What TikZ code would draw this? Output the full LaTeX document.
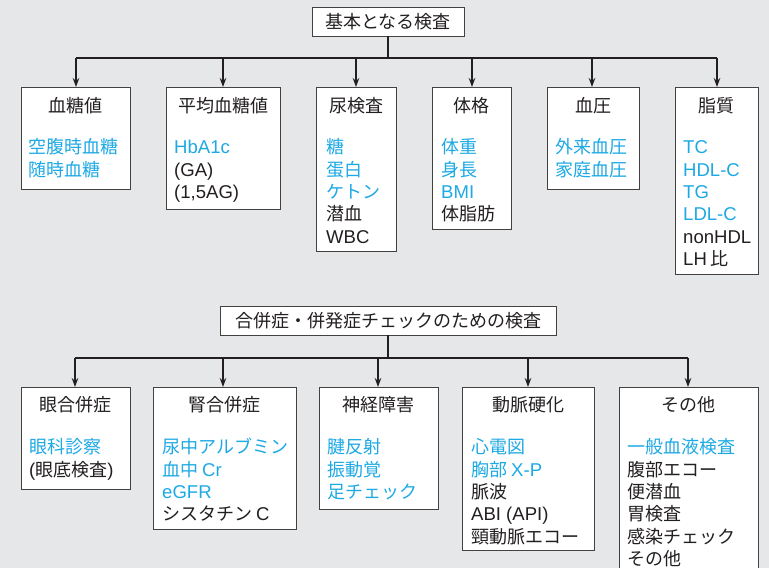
\documentclass[tikz,border=0pt]{standalone}
\usepackage{fontspec}
\setmainfont{Noto Sans CJK JP}
\newfontfamily\latfont{Liberation Sans}[Scale=1.03]
\usetikzlibrary{arrows.meta}
\definecolor{bg}{HTML}{E6E7E9}
\definecolor{blu}{HTML}{1DA9E4}
\definecolor{ink}{HTML}{231F20}
\tikzset{
  x=1pt,y=-1pt,
  box/.style={draw=ink!85,line width=0.9pt,fill=white,inner sep=0pt},
  ttl/.style={inner sep=0pt,anchor=center,text=ink,font=\fontsize{18}{22.3}\selectfont},
  items/.style={inner sep=0pt,anchor=north west,align=left,text=ink,font=\fontsize{18}{22.3}\selectfont},
  conn/.style={draw=ink,line width=1.3pt},
  arr/.style={conn,-{Stealth[length=9pt,width=6.5pt]}}
}
\newcommand{\bl}[1]{\textcolor{blu}{#1}}
\newcommand{\la}[1]{{\latfont #1}}
\begin{document}
\begin{tikzpicture}
\useasboundingbox[fill=bg] (0,0) rectangle (769,568);
\clip (0,0) rectangle (769,568);
% ---------- top group ----------
\node[box,minimum width=152pt,minimum height=29pt] (top) at (388,21.5) {};
\node[ttl] (toptxt) at (top.center) {基本となる検査};
\coordinate (tj) at (388,58);
\coordinate (tl) at (76,58);
\coordinate (tr) at (717,58);
\draw[conn] (top.south) -- (tj);
\draw[conn] (tl) -- (tr);

\node[box,minimum width=109pt,minimum height=102pt,anchor=north west] (a1) at (21,87) {};
\node[box,minimum width=114pt,minimum height=122pt,anchor=north west] (a2) at (166,87) {};
\node[box,minimum width=80pt,minimum height=164pt,anchor=north west] (a3) at (316,87) {};
\node[box,minimum width=79pt,minimum height=142pt,anchor=north west] (a4) at (432,87) {};
\node[box,minimum width=92pt,minimum height=102pt,anchor=north west] (a5) at (547,87) {};
\node[box,minimum width=83pt,minimum height=187pt,anchor=north west] (a6) at (675,87) {};

\foreach \n/\x in {a1/76,a2/223,a3/356,a4/472,a5/592,a6/717}{
  \coordinate (s\n) at (\x,58);
  \draw[arr] (s\n) -- (\n.north -| s\n);
}

\node[ttl] (a1t) at (a1.north |- 0,106) {血糖値};
\node[ttl] (a2t) at (a2.north |- 0,106) {平均血糖値};
\node[ttl] (a3t) at (a3.north |- 0,106) {尿検査};
\node[ttl] (a4t) at (a4.north |- 0,106) {体格};
\node[ttl] (a5t) at (a5.north |- 0,106) {血圧};
\node[ttl] (a6t) at (a6.north |- 0,106) {脂質};

\node[items] (a1i) at (28,138) {\strut\bl{空腹時血糖}\\\bl{随時血糖}};
\node[items] (a2i) at (174,138) {\strut\bl{\la{HbA1c}}\\\la{(GA)}\\\la{(1,5AG)}};
\node[items] (a3i) at (326,138) {\strut\bl{糖}\\\bl{蛋白}\\\bl{ケトン}\\潜血\\\la{WBC}};
\node[items] (a4i) at (441,138) {\strut\bl{体重}\\\bl{身長}\\\bl{\la{BMI}}\\体脂肪};
\node[items] (a5i) at (555,138) {\strut\bl{外来血圧}\\\bl{家庭血圧}};
\node[items] (a6i) at (683,138) {\strut\bl{\la{TC}}\\\bl{\la{HDL-C}}\\\bl{\la{TG}}\\\bl{\la{LDL-C}}\\\la{nonHDL}\\\la{LH} 比};

% ---------- bottom group ----------
\node[box,minimum width=336pt,minimum height=29pt] (bot) at (388,320.5) {};
\node[ttl] (bottxt) at (bot.center) {合併症・併発症チェックのための検査};
\coordinate (bj) at (388,358);
\coordinate (bl) at (75,358);
\coordinate (br) at (688,358);
\draw[conn] (bot.south) -- (bj);
\draw[conn] (bl) -- (br);

\node[box,minimum width=109pt,minimum height=102pt,anchor=north west] (b1) at (21,387) {};
\node[box,minimum width=143pt,minimum height=142pt,anchor=north west] (b2) at (153,387) {};
\node[box,minimum width=119pt,minimum height=122pt,anchor=north west] (b3) at (319,387) {};
\node[box,minimum width=132pt,minimum height=163pt,anchor=north west] (b4) at (462,387) {};
\node[box,minimum width=139pt,minimum height=200pt,anchor=north west] (b5) at (619,387) {};

\foreach \n/\x in {b1/75,b2/223,b3/378,b4/528,b5/688}{
  \coordinate (s\n) at (\x,358);
  \draw[arr] (s\n) -- (\n.north -| s\n);
}

\node[ttl] (b1t) at (b1.north |- 0,405) {眼合併症};
\node[ttl] (b2t) at (b2.north |- 0,405) {腎合併症};
\node[ttl] (b3t) at (b3.north |- 0,405) {神経障害};
\node[ttl] (b4t) at (b4.north |- 0,405) {動脈硬化};
\node[ttl] (b5t) at (b5.north |- 0,405) {その他};

\node[items] (b1i) at (29,438) {\strut\bl{眼科診察}\\\la{(}眼底検査\la{)}};
\node[items] (b2i) at (162,438) {\strut\bl{尿中アルブミン}\\\bl{血中 \la{Cr}}\\\bl{\la{eGFR}}\\シスタチン \la{C}};
\node[items] (b3i) at (327,438) {\strut\bl{腱反射}\\\bl{振動覚}\\\bl{足チェック}};
\node[items] (b4i) at (471,438) {\strut\bl{心電図}\\\bl{胸部 \la{X-P}}\\脈波\\\la{ABI (API)}\\頸動脈エコー};
\node[items] (b5i) at (627,438) {\strut\bl{一般血液検査}\\腹部エコー\\便潜血\\胃検査\\感染チェック\\その他};
\end{tikzpicture}
\end{document}
